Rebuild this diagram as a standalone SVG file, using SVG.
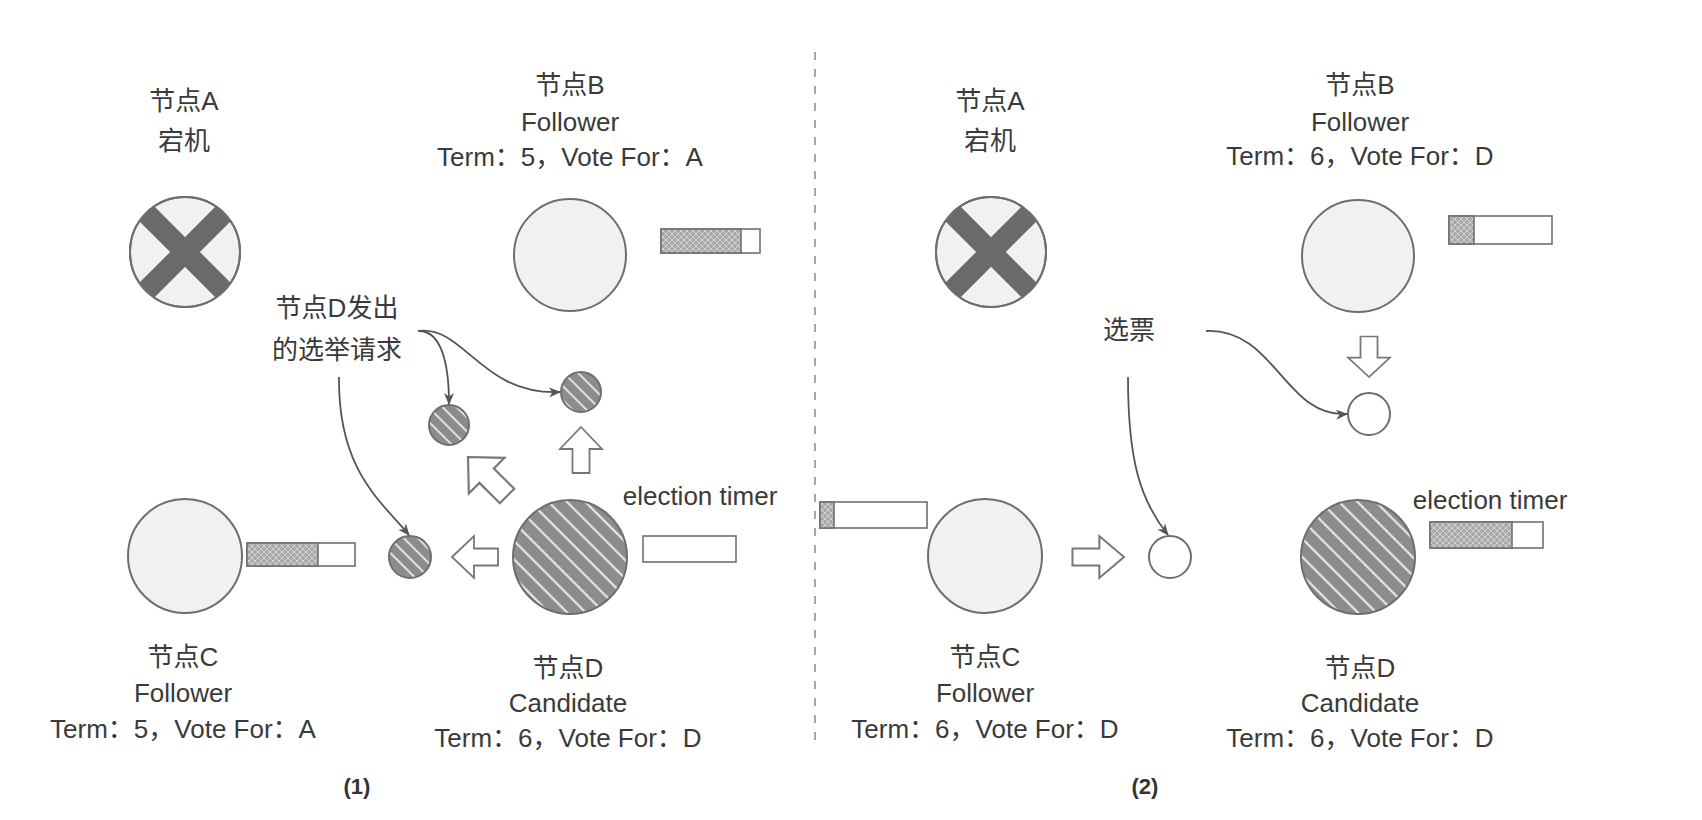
<svg xmlns="http://www.w3.org/2000/svg" width="1702" height="820" viewBox="0 0 1702 820">
<style>
  .t { font-family: "Liberation Sans", "Noto Sans CJK SC", sans-serif; font-size: 26px; fill: #3a3a3a; text-anchor: middle; }
  .lbl { font-family: "Liberation Sans", "Noto Sans CJK SC", sans-serif; font-size: 22px; font-weight: bold; fill: #333; text-anchor: middle; }
  .plain { fill: #f1f1f1; stroke: #6e6e6e; stroke-width: 2; }
  .white { fill: #ffffff; stroke: #6e6e6e; stroke-width: 2; }
  .striped { fill: url(#stripes); stroke: #6e6e6e; stroke-width: 2; }
  .stripedS { fill: url(#stripesS); stroke: #6e6e6e; stroke-width: 2; }
  .bar { fill: #ffffff; stroke: #707070; stroke-width: 1.6; }
  .barfill { fill: url(#hatch); stroke: #707070; stroke-width: 1.6; }
  .blk { fill: #ffffff; stroke: #777; stroke-width: 1.8; stroke-linejoin: miter; }
  .conn { fill: none; stroke: #555; stroke-width: 1.8; marker-end: url(#ah); }
  .cross { stroke: #6a6a6a; stroke-width: 21; }
</style>
<defs>
  <pattern id="stripes" patternUnits="userSpaceOnUse" width="13" height="13" patternTransform="rotate(45)">
    <rect width="13" height="13" fill="#8c8c8c"/>
    <line x1="0" y1="6" x2="13" y2="6" stroke="#e6e6e6" stroke-width="2.2"/>
  </pattern>
  <pattern id="stripesS" patternUnits="userSpaceOnUse" width="10" height="10" patternTransform="rotate(45)">
    <rect width="10" height="10" fill="#8c8c8c"/>
    <line x1="0" y1="5" x2="10" y2="5" stroke="#e0e0e0" stroke-width="2"/>
  </pattern>
  <pattern id="hatch" patternUnits="userSpaceOnUse" width="6" height="6">
    <rect width="6" height="6" fill="#a9a9a9"/>
    <path d="M0,0 L6,6 M6,0 L0,6" stroke="#d2d2d2" stroke-width="1"/>
  </pattern>
  <marker id="ah" viewBox="0 0 12 10" refX="11" refY="5" markerWidth="12" markerHeight="10" markerUnits="userSpaceOnUse" orient="auto">
    <path d="M0,0 L12,5 L0,10 L3.5,5 Z" fill="#555"/>
  </marker>
  <path id="blockUp" d="M0,0 L21,22 L8.5,22 L8.5,46 L-8.5,46 L-8.5,22 L-21,22 Z"/>
  <clipPath id="clipA1"><circle cx="185" cy="252" r="55"/></clipPath>
  <clipPath id="clipA2"><circle cx="991" cy="252" r="55"/></clipPath>
</defs>
<rect width="1702" height="820" fill="#ffffff"/>

<!-- divider -->
<line id="divider" x1="815" y1="52" x2="815" y2="740" stroke="#777" stroke-width="1.3" stroke-dasharray="8,9"/>

<!-- ===== Panel 1 ===== -->
<g id="p1-nodeA">
  <text class="t" x="184" y="110">节点A</text>
  <text class="t" x="184" y="150">宕机</text>
  <circle class="plain" cx="185" cy="252" r="55"/>
  <g clip-path="url(#clipA1)">
    <line class="cross" x1="145" y1="212" x2="225" y2="292"/>
    <line class="cross" x1="225" y1="212" x2="145" y2="292"/>
  </g>
  <circle cx="185" cy="252" r="55" fill="none" stroke="#6e6e6e" stroke-width="2"/>
</g>

<g id="p1-nodeB">
  <text class="t" x="570" y="94">节点B</text>
  <text class="t" x="570" y="131">Follower</text>
  <text class="t" x="570" y="166">Term：5，Vote For：A</text>
  <circle class="plain" cx="570" cy="255" r="56"/>
  <rect class="bar" x="661" y="229" width="99" height="24"/>
  <rect class="barfill" x="661" y="229" width="80" height="24"/>
</g>

<g id="p1-nodeC">
  <circle class="plain" cx="185" cy="556" r="57"/>
  <rect class="bar" x="247" y="543" width="108" height="23"/>
  <rect class="barfill" x="247" y="543" width="71" height="23"/>
  <text class="t" x="183" y="666">节点C</text>
  <text class="t" x="183" y="702">Follower</text>
  <text class="t" x="183" y="738">Term：5，Vote For：A</text>
</g>

<g id="p1-nodeD">
  <circle class="striped" cx="570" cy="557" r="57"/>
  <text class="t" x="700" y="505">election timer</text>
  <rect class="bar" x="643" y="536" width="93" height="26"/>
  <text class="t" x="568" y="677">节点D</text>
  <text class="t" x="568" y="712">Candidate</text>
  <text class="t" x="568" y="747">Term：6，Vote For：D</text>
</g>

<g id="p1-request-label">
  <text class="t" x="337" y="317">节点D发出</text>
  <text class="t" x="337" y="359">的选举请求</text>
</g>

<g id="p1-messages">
  <circle class="stripedS" cx="449" cy="425" r="20"/>
  <circle class="stripedS" cx="581" cy="392" r="20"/>
  <circle class="stripedS" cx="410" cy="557" r="21"/>
</g>

<g id="p1-block-arrows">
  <use href="#blockUp" class="blk" transform="translate(581,427)"/>
  <use href="#blockUp" class="blk" transform="translate(468,457) rotate(-45) scale(1.2)"/>
  <use href="#blockUp" class="blk" transform="translate(452,557) rotate(-90)"/>
</g>

<!-- ===== Panel 2 ===== -->
<g id="p2-nodeA">
  <text class="t" x="990" y="110">节点A</text>
  <text class="t" x="990" y="150">宕机</text>
  <circle class="plain" cx="991" cy="252" r="55"/>
  <g clip-path="url(#clipA2)">
    <line class="cross" x1="951" y1="212" x2="1031" y2="292"/>
    <line class="cross" x1="1031" y1="212" x2="951" y2="292"/>
  </g>
  <circle cx="991" cy="252" r="55" fill="none" stroke="#6e6e6e" stroke-width="2"/>
</g>

<g id="p2-nodeB">
  <text class="t" x="1360" y="94">节点B</text>
  <text class="t" x="1360" y="131">Follower</text>
  <text class="t" x="1360" y="165">Term：6，Vote For：D</text>
  <circle class="plain" cx="1358" cy="256" r="56"/>
  <rect class="bar" x="1449" y="216" width="103" height="28"/>
  <rect class="barfill" x="1449" y="216" width="25" height="28"/>
</g>

<g id="p2-nodeC">
  <rect class="bar" x="820" y="502" width="107" height="26"/>
  <rect class="barfill" x="820" y="502" width="14" height="26"/>
  <circle class="plain" cx="985" cy="556" r="57"/>
  <text class="t" x="985" y="666">节点C</text>
  <text class="t" x="985" y="702">Follower</text>
  <text class="t" x="985" y="738">Term：6，Vote For：D</text>
</g>

<g id="p2-nodeD">
  <circle class="striped" cx="1358" cy="557" r="57"/>
  <text class="t" x="1490" y="509">election timer</text>
  <rect class="bar" x="1430" y="522" width="113" height="26"/>
  <rect class="barfill" x="1430" y="522" width="82" height="26"/>
  <text class="t" x="1360" y="677">节点D</text>
  <text class="t" x="1360" y="712">Candidate</text>
  <text class="t" x="1360" y="747">Term：6，Vote For：D</text>
</g>

<g id="p2-vote-label">
  <text class="t" x="1129" y="339">选票</text>
</g>

<g id="p2-messages">
  <circle class="white" cx="1369" cy="414" r="21"/>
  <circle class="white" cx="1170" cy="557" r="21"/>
</g>

<g id="p2-block-arrows">
  <use href="#blockUp" class="blk" transform="translate(1369,377) rotate(180) scale(1,0.88)"/>
  <use href="#blockUp" class="blk" transform="translate(1124,557) rotate(90) scale(1,1.12)"/>
</g>

<!-- connectors -->
<g id="connectors">
  <path class="conn" d="M418,331 C440,330 449,360 449,404"/>
  <path class="conn" d="M418,331 C465,325 480,395 560,392"/>
  <path class="conn" d="M339,377 C338,470 380,500 409,535"/>
  <path class="conn" d="M1206,331 C1275,328 1285,418 1347,414"/>
  <path class="conn" d="M1128,377 C1128,460 1140,500 1168,535"/>
</g>

<g id="panel-labels">
  <text class="lbl" x="357" y="794">(1)</text>
  <text class="lbl" x="1145" y="794">(2)</text>
</g>
</svg>
